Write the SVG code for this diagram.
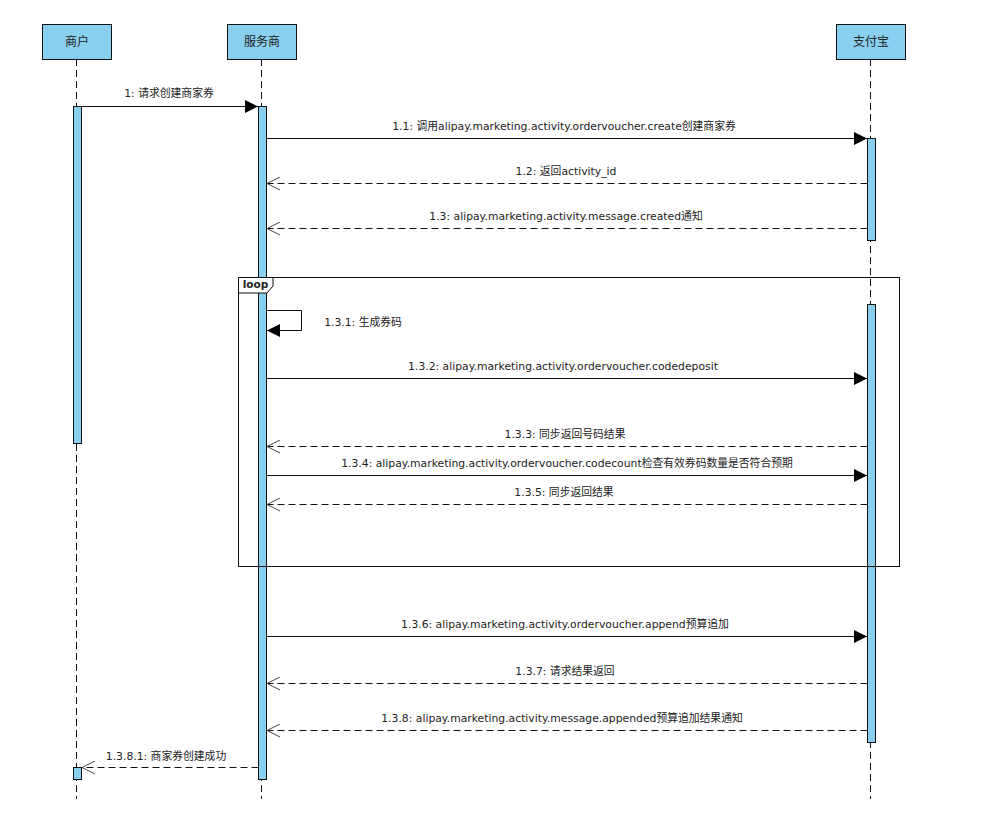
<svg xmlns="http://www.w3.org/2000/svg" width="996" height="813" viewBox="0 0 996 813">
<style>
text{font-family:"DejaVu Sans","Noto Sans CJK SC",sans-serif;font-size:10.8px;fill:#222;text-anchor:middle}
.head{font-size:12px}
.box{fill:#89cff0;stroke:#111;stroke-width:1}
.life{fill:none;stroke:#111;stroke-width:1;stroke-dasharray:7 4}
.sync{fill:none;stroke:#111;stroke-width:1;marker-end:url(#solid)}
.ret{fill:none;stroke:#111;stroke-width:1;stroke-dasharray:7 4;marker-end:url(#open)}
</style>
<defs>
<marker id="solid" markerUnits="userSpaceOnUse" markerWidth="14" markerHeight="14" refX="13" refY="7" orient="auto"><path d="M0 0.5L13 7L0 13.5Z" fill="#000"/></marker>
<marker id="open" markerUnits="userSpaceOnUse" markerWidth="14" markerHeight="14" refX="13" refY="7" orient="auto"><path d="M0 0.5L13 7L0 13.5" fill="none" stroke="#444" stroke-width="1"/></marker>
</defs>
<rect width="996" height="813" fill="#fff"/>
<g id="lifelines">
<path class="life" d="M76.5 59V799"/>
<path class="life" d="M261.5 59V799"/>
<path class="life" d="M870.5 59V799"/>
</g>
<g id="node-merchant"><rect class="box" x="42.5" y="24.5" width="69" height="35"/><text class="head" x="77" y="46">商户</text></g>
<g id="node-provider"><rect class="box" x="227.5" y="24.5" width="69" height="35"/><text class="head" x="262" y="46">服务商</text></g>
<g id="node-alipay"><rect class="box" x="836.5" y="24.5" width="69" height="35"/><text class="head" x="871" y="46">支付宝</text></g>
<g id="activations">
<rect class="box" x="73.5" y="106.5" width="8" height="337"/>
<rect class="box" x="73.5" y="767.5" width="8" height="12"/>
<rect class="box" x="258.5" y="106.5" width="8" height="673"/>
<rect class="box" x="867.5" y="138.5" width="8" height="102"/>
<rect class="box" x="867.5" y="304.5" width="8" height="438"/>
</g>
<g id="loop-frame">
<rect x="238.5" y="277.5" width="661" height="289" fill="none" stroke="#111"/>
<path d="M238.5 277.5H273V286L267 293H238.5Z" fill="#fff" stroke="#111"/>
<text x="255.5" y="288" style="font-weight:bold;font-size:10.5px">loop</text>
</g>
<g id="connectors">
<path class="sync" d="M81.5 106.5H258"/>
<path class="sync" d="M266.5 138.5H867"/>
<path class="ret" d="M867.5 183.5H267"/>
<path class="ret" d="M867.5 228.5H267"/>
<path class="sync" d="M266.5 310.5H301.5V330.5H267"/>
<path class="sync" d="M266.5 378.5H867"/>
<path class="ret" d="M867.5 446.5H267"/>
<path class="sync" d="M266.5 475.5H867"/>
<path class="ret" d="M867.5 504.5H267"/>
<path class="sync" d="M266.5 636.5H867"/>
<path class="ret" d="M867.5 683.5H267"/>
<path class="ret" d="M867.5 730.5H267"/>
<path class="ret" d="M258.5 767.5H82"/>
</g>
<g id="labels">
<text x="169" y="97">1: 请求创建商家券</text>
<text x="564" y="130">1.1: 调用alipay.marketing.activity.ordervoucher.create创建商家券</text>
<text x="566" y="175">1.2: 返回activity_id</text>
<text x="566" y="219.500">1.3: alipay.marketing.activity.message.created通知</text>
<text x="363" y="326">1.3.1: 生成券码</text>
<text x="563" y="370">1.3.2: alipay.marketing.activity.ordervoucher.codedeposit</text>
<text x="565" y="438">1.3.3: 同步返回号码结果</text>
<text x="567" y="467">1.3.4: alipay.marketing.activity.ordervoucher.codecount检查有效券码数量是否符合预期</text>
<text x="564" y="496">1.3.5: 同步返回结果</text>
<text x="565" y="628">1.3.6: alipay.marketing.activity.ordervoucher.append预算追加</text>
<text x="565" y="675">1.3.7: 请求结果返回</text>
<text x="562" y="722">1.3.8: alipay.marketing.activity.message.appended预算追加结果通知</text>
<text x="166" y="760">1.3.8.1: 商家券创建成功</text>
</g>
</svg>
